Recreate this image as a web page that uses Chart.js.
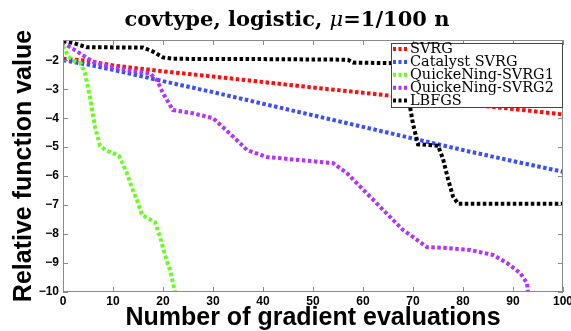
<!DOCTYPE html>
<html><head><meta charset="utf-8">
<script src="https://cdn.jsdelivr.net/npm/chart.js@4/dist/chart.umd.min.js"></script>
<style>html,body{margin:0;padding:0;background:#fff}canvas{display:block}</style>
</head><body>
<canvas id="c" width="571" height="331"></canvas>
<script>
// ---- data ----
const seriesNames = ['SVRG', 'Catalyst SVRG', 'QuickeNing-SVRG1', 'QuickeNing-SVRG2', 'LBFGS'];

const svrgX = [0, 5, 10, 20, 30, 40, 50, 60, 70, 80, 90, 100];
const svrgY = [-1.95, -2.02, -2.18, -2.38, -2.56, -2.75, -2.94, -3.12, -3.31, -3.5, -3.68, -3.87];

const catalystX = [0, 5, 10, 20, 30, 40, 50, 60, 70, 80, 90, 100];
const catalystY = [-2.0, -2.15, -2.33, -2.72, -3.1, -3.5, -3.9, -4.3, -4.7, -5.1, -5.48, -5.85];

const qn1X = [0, 1, 2, 3.5, 4.4, 5.4, 6.4, 7.4, 8.5, 10, 11.2, 11.8, 12.8, 13.8, 14.8, 15.8, 17, 18.4, 19.4, 20.4, 21.4, 22, 22.4];
const qn1Y = [-1.5, -1.85, -2.0, -2.1, -2.45, -3.28, -4.3, -4.95, -5.1, -5.2, -5.3, -5.52, -5.9, -6.41, -6.83, -7.34, -7.45, -7.59, -8.1, -8.72, -9.24, -9.69, -10.0];

const qn2X = [0, 1, 3.4, 6, 9.4, 12.8, 17.4, 18.8, 20, 22, 26, 30, 32, 34.8, 36.8, 40.8, 54, 56.8, 60, 64.8, 68, 70, 72.8, 76.8, 81.4, 86, 88.8, 91.4, 92.8, 93];
const qn2Y = [-1.35, -1.5, -1.76, -2.05, -2.22, -2.34, -2.45, -2.69, -3.14, -3.72, -3.83, -4.0, -4.31, -4.76, -5.1, -5.34, -5.55, -5.9, -6.46, -7.3, -7.86, -8.1, -8.45, -8.48, -8.55, -8.72, -9.0, -9.34, -9.69, -10.0];

const lbfgsX = [0, 2, 4.7, 16, 18, 20, 22, 40, 57, 58, 66, 68, 69, 70, 71, 75, 76, 77, 78, 79, 100];
const lbfgsY = [-1.32, -1.4, -1.55, -1.56, -1.7, -1.9, -1.95, -1.96, -1.98, -2.08, -2.1, -2.4, -3.2, -4.2, -4.9, -4.95, -5.4, -6.1, -6.7, -6.95, -6.95];

const xTickValues = [0, 10, 20, 30, 40, 50, 60, 70, 80, 90, 100];
const yTickValues = [-10, -9, -8, -7, -6, -5, -4, -3, -2];
const xRange = [0, 100];
const yRange = [-10, -1.3];

const titleText = ['covtype, logistic, ', 'μ', '=1/100 n'];
const xTitle = 'Number of gradient evaluations';
const yTitle = 'Relative function value';

// ---- styling ----
const colors = ['#ff0d0d', '#3a4dff', '#66ff1a', '#b033ff', '#000000'];
const xsAll = [svrgX, catalystX, qn1X, qn2X, lbfgsX];
const ysAll = [svrgY, catalystY, qn1Y, qn2Y, lbfgsY];

const datasets = seriesNames.map((name, i) => ({
  label: name,
  data: xsAll[i].map((x, j) => ({x: x, y: ysAll[i][j]})),
  borderColor: colors[i],
  backgroundColor: colors[i],
  borderWidth: 4,
  borderDash: [3.5, 2.5],
  borderCapStyle: 'butt',
  pointRadius: 0,
  fill: false,
  tension: 0,
  order: seriesNames.length - i
}));

const decor = {
  id: 'decor',
  afterDraw(chart) {
    const {ctx, chartArea: a, scales: {x, y}} = chart;
    ctx.save();
    // axes box
    ctx.strokeStyle = '#8a8a8a';
    ctx.lineWidth = 1;
    ctx.strokeRect(a.left + 0.5, a.top + 0.5, a.right - a.left - 1, a.bottom - a.top - 1);
    // inner ticks
    const tl = 5;
    ctx.beginPath();
    x.ticks.forEach(t => {
      const px = Math.round(x.getPixelForValue(t.value)) + 0.5;
      ctx.moveTo(px, a.bottom); ctx.lineTo(px, a.bottom - tl);
      ctx.moveTo(px, a.top); ctx.lineTo(px, a.top + tl);
    });
    y.ticks.forEach(t => {
      const py = Math.round(y.getPixelForValue(t.value)) + 0.5;
      ctx.moveTo(a.left, py); ctx.lineTo(a.left + tl, py);
      ctx.moveTo(a.right, py); ctx.lineTo(a.right - tl, py);
    });
    ctx.stroke();

    // legend
    const lx = 391, ly = 43, lw = 171, lh = 64;
    ctx.fillStyle = '#fff';
    ctx.fillRect(lx, ly, lw, lh);
    ctx.strokeStyle = '#444';
    ctx.strokeRect(lx + 0.5, ly + 0.5, lw, lh);
    ctx.font = '14px "DejaVu Serif"';
    const ref = ctx.measureText('QuickeNing-SVRG1').width;
    const fs = 14 * 144 / ref;
    ctx.font = fs + 'px "DejaVu Serif"';
    ctx.textBaseline = 'middle';
    ctx.textAlign = 'left';
    chart.data.datasets.forEach((ds, i) => {
      const cy = ly + 6 + i * 12.9;
      ctx.save();
      ctx.strokeStyle = ds.borderColor;
      ctx.lineWidth = 4;
      ctx.setLineDash([3, 2.5]);
      ctx.beginPath();
      ctx.moveTo(lx + 2, cy); ctx.lineTo(lx + 18, cy);
      ctx.stroke();
      ctx.restore();
      ctx.fillStyle = '#000';
      ctx.fillText(ds.label, lx + 19, cy + 0.5);
    });

    // title with italic mu
    const fonts = ['bold 21px "DejaVu Serif"', 'italic 21px "DejaVu Serif"', 'bold 21px "DejaVu Serif"'];
    let widths = titleText.map((s, i) => { ctx.font = fonts[i]; return ctx.measureText(s).width; });
    const total = widths.reduce((p, c) => p + c, 0);
    let tx = 287 - total / 2;
    ctx.fillStyle = '#000';
    ctx.textBaseline = 'alphabetic';
    titleText.forEach((s, i) => {
      ctx.font = fonts[i];
      ctx.fillText(s, tx, 26);
      tx += widths[i];
    });
    ctx.restore();
  }
};

const tickFont = {family: '"Liberation Sans", Arial, sans-serif', weight: 'bold', size: 12};
const titleFont = {family: '"Liberation Sans", Arial, sans-serif', weight: 'bold', size: 25, lineHeight: 1.0};

new Chart(document.getElementById('c'), {
  type: 'line',
  data: {datasets: datasets},
  options: {
    responsive: false,
    animation: false,
    devicePixelRatio: 1,
    layout: {padding: {top: 40, right: 8, left: 0, bottom: 0}},
    plugins: {legend: {display: false}, tooltip: {enabled: false}, title: {display: false}},
    scales: {
      x: {
        type: 'linear', min: xRange[0], max: xRange[1],
        afterBuildTicks: s => { s.ticks = xTickValues.map(v => ({value: v})); },
        afterFit: s => { s.height = 39; s.paddingLeft = 0; s.paddingRight = 0; },
        ticks: {font: tickFont, color: '#000', padding: 2, maxRotation: 0, autoSkip: false},
        grid: {display: false, drawTicks: false},
        border: {display: false},
        title: {display: true, text: xTitle, font: titleFont, color: '#000', padding: 0}
      },
      y: {
        type: 'linear', min: yRange[0], max: yRange[1],
        afterBuildTicks: s => { s.ticks = yTickValues.map(v => ({value: v})); },
        afterFit: s => { s.width = 63; s.paddingTop = 0; s.paddingBottom = 0; },
        ticks: {font: tickFont, color: '#000', padding: 4, autoSkip: false,
          callback: v => (v < 0 ? '\u2212' + Math.abs(v) : String(v))},
        grid: {display: false, drawTicks: false},
        border: {display: false},
        title: {display: true, text: yTitle, font: titleFont, color: '#000', padding: {top: 12, bottom: 0}}
      }
    }
  },
  plugins: [decor]
});
</script>
</body></html>
